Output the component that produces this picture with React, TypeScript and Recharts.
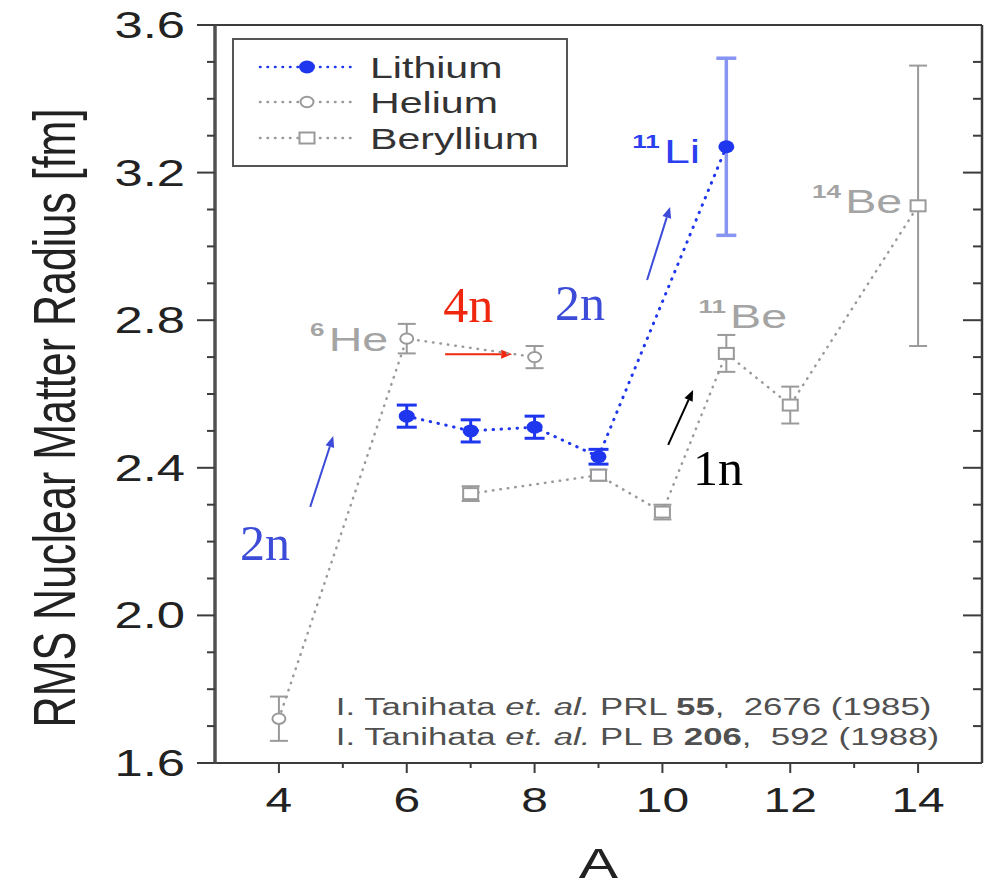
import React from 'react';
import {
  ScatterChart,
  Scatter,
  XAxis,
  YAxis,
  ErrorBar,
  Legend,
  ReferenceLine,
  ReferenceDot,
} from 'recharts';

// Mass number A, RMS nuclear matter radius [fm] and its uncertainty per isotope chain
const liMass = [6, 7, 8, 9, 11];
const liRadius = [2.54, 2.5, 2.51, 2.43, 3.27];
const liError = [0.03, 0.03, 0.03, 0.02, 0.24];

const heMass = [4, 6, 8];
const heRadius = [1.72, 2.75, 2.7];
const heError = [0.06, 0.04, 0.03];

const beMass = [7, 9, 10, 11, 12, 14];
const beRadius = [2.33, 2.38, 2.28, 2.71, 2.57, 3.11];
const beError = [0.02, 0.015, 0.02, 0.05, 0.05, 0.38];

const seriesNames = ['Lithium', 'Helium', 'Beryllium'];

const xTickValues = [4, 5, 6, 7, 8, 9, 10, 11, 12, 13, 14];
const xTickLabels = [4, 6, 8, 10, 12, 14];
const yTickValues = [
  1.6, 1.7, 1.8, 1.9, 2.0, 2.1, 2.2, 2.3, 2.4, 2.5, 2.6, 2.7, 2.8, 2.9, 3.0, 3.1, 3.2, 3.3, 3.4, 3.5, 3.6,
];
const yTickLabels = [1.6, 2.0, 2.4, 2.8, 3.2, 3.6];

// Isotope names and neutron-halo notes, anchored in (A, radius) units
const isotopeLabels = [
  { mass: '11', sym: 'Li', at: [10.59, 3.226], kind: 'li' },
  { mass: '14', sym: 'Be', at: [13.75, 3.091], kind: 'gray' },
  { mass: '11', sym: 'Be', at: [11.95, 2.779], kind: 'gray' },
  { mass: '6', sym: 'He', at: [5.71, 2.717], kind: 'gray' },
];
const neutronNotes = [
  { text: '2n', at: [3.39, 2.15], kind: 'blue' },
  { text: '4n', at: [6.57, 2.795], kind: 'red' },
  { text: '2n', at: [8.32, 2.801], kind: 'blue' },
  { text: '1n', at: [10.48, 2.353], kind: 'black' },
];
const noteArrows = [
  { from: [4.49, 2.294], to: [4.85, 2.486], kind: 'blue' },
  { from: [6.6, 2.708], to: [7.65, 2.708], kind: 'red' },
  { from: [9.76, 2.909], to: [10.12, 3.107], kind: 'blue' },
  { from: [10.09, 2.462], to: [10.48, 2.611], kind: 'black' },
];
const citationAnchor = [4.89, 1.73];
const citationAnchor2 = [4.89, 1.649];

const SANS = '"Liberation Sans", Arial, Helvetica, sans-serif';
const SERIF = '"Liberation Serif", "Times New Roman", serif';
const STRETCH = 1.37;

const LI_BLUE = '#1f36ef';
const LI_FAINT = '#8794f2';
const GRAY = '#9a9a9a';
const GRAY_LABEL = '#a4a4a4';
const AXIS = '#3c3c3c';
const noteColors: Record<string, string> = {
  blue: '#3c4bd8',
  red: '#f0270f',
  black: '#000000',
  li: '#2a40f0',
  gray: GRAY_LABEL,
};

const liData = liMass.map((A, i) => ({
  A,
  r: liRadius[i],
  e: liError[i] < 0.1 ? liError[i] : undefined,
  eWide: liError[i] >= 0.1 ? liError[i] : undefined,
}));
const heData = heMass.map((A, i) => ({ A, r: heRadius[i], e: heError[i] }));
const beData = beMass.map((A, i) => ({ A, r: beRadius[i], e: beError[i] }));

const isMajorY = (v: number) => yTickLabels.some((l) => Math.abs(l - v) < 1e-6);

const BottomTick = (p: any) => {
  const v = p.payload.value;
  const major = xTickLabels.includes(v);
  return (
    <g>
      <line x1={p.x} x2={p.x} y1={p.y} y2={p.y + (major ? 10 : 5)} stroke={AXIS} strokeWidth={2} />
      {major && (
        <text
          transform={`translate(${p.x},${p.y + 49}) scale(${STRETCH},1)`}
          textAnchor="middle"
          fontFamily={SANS}
          fontSize={35}
          fill="#222"
        >
          {v}
        </text>
      )}
    </g>
  );
};

const TopTick = (p: any) => {
  const major = xTickLabels.includes(p.payload.value);
  return <line x1={p.x} x2={p.x} y1={p.y} y2={p.y + (major ? 13 : 5)} stroke={AXIS} strokeWidth={2} />;
};

const LeftTick = (p: any) => {
  const v = p.payload.value;
  const major = isMajorY(v);
  return (
    <g>
      <line x1={p.x} x2={p.x - (major ? 18 : 8)} y1={p.y} y2={p.y} stroke={AXIS} strokeWidth={2} />
      {major && (
        <text
          transform={`translate(${p.x - 30},${p.y + 13}) scale(${STRETCH},1)`}
          textAnchor="end"
          fontFamily={SANS}
          fontSize={37}
          fill="#222"
        >
          {v.toFixed(1)}
        </text>
      )}
    </g>
  );
};

const RightTick = (p: any) => {
  const major = isMajorY(p.payload.value);
  return <line x1={p.x} x2={p.x - (major ? 19 : 9)} y1={p.y} y2={p.y} stroke={AXIS} strokeWidth={2} />;
};

const XTitle = (props: any) => {
  const vb = props.viewBox || { x: 215, y: 763, width: 767, height: 123 };
  return (
    <text
      transform={`translate(${vb.x + vb.width / 2},${vb.y + 115}) scale(${STRETCH},1)`}
      textAnchor="middle"
      fontFamily={SANS}
      fontSize={43}
      fill="#222"
    >
      A
    </text>
  );
};

const YTitle = (props: any) => {
  const vb = props.viewBox || { x: 0, y: 25, width: 215, height: 738 };
  return (
    <text
      transform={`translate(${vb.x + 75},${vb.y + vb.height / 2 + 24}) scale(${STRETCH},1) rotate(-90)`}
      textAnchor="middle"
      fontFamily={SANS}
      fontSize={43}
      fill="#222"
    >
      RMS Nuclear Matter Radius [fm]
    </text>
  );
};

const LiMarker = (p: any) => <ellipse cx={p.cx} cy={p.cy} rx={8} ry={6.5} fill={LI_BLUE} />;
const HeMarker = (p: any) => (
  <ellipse cx={p.cx} cy={p.cy} rx={6.5} ry={5.2} fill="#fff" stroke={GRAY} strokeWidth={2} />
);
const BeMarker = (p: any) => (
  <rect x={p.cx - 7.5} y={p.cy - 5.5} width={15} height={11} fill="#fff" stroke={GRAY} strokeWidth={2} />
);

const legendRows = [
  { name: seriesNames[0], y: 29, color: LI_BLUE, marker: 'li' },
  { name: seriesNames[1], y: 64, color: GRAY, marker: 'he' },
  { name: seriesNames[2], y: 100, color: GRAY, marker: 'be' },
];

const LegendBox = () => (
  <svg width={336} height={129} style={{ display: 'block' }}>
    <rect x={1} y={1} width={334} height={127} fill="#fff" stroke="#555" strokeWidth={2} />
    {legendRows.map((row) => (
      <g key={row.name}>
        <line
          x1={28}
          x2={121}
          y1={row.y}
          y2={row.y}
          stroke={row.color}
          strokeWidth={2.5}
          strokeDasharray="0.5 7"
          strokeLinecap="round"
        />
        {row.marker === 'li' && <LiMarker cx={75} cy={row.y} />}
        {row.marker === 'he' && <HeMarker cx={75} cy={row.y} />}
        {row.marker === 'be' && <BeMarker cx={75} cy={row.y} />}
        <text
          transform={`translate(138,${row.y + 10.5}) scale(${STRETCH},1)`}
          fontFamily={SANS}
          fontSize={30}
          fill="#333"
        >
          {row.name}
        </text>
      </g>
    ))}
  </svg>
);

const IsotopeText = ({ cx, cy, mass, sym, color }: any) => (
  <text
    transform={`translate(${cx},${cy}) scale(${STRETCH},1)`}
    textAnchor="end"
    fontFamily={SANS}
    fill={color}
  >
    <tspan fontSize={19} fontWeight="bold" dy={-15}>
      {mass}
    </tspan>
    <tspan fontSize={34} dx={3} dy={15}>
      {sym}
    </tspan>
  </text>
);

const NoteText = ({ cx, cy, text, color }: any) => (
  <text x={cx} y={cy} fontFamily={SERIF} fontSize={50} fill={color}>
    {text}
  </text>
);

const makeArrow = (color: string) => (p: any) => {
  const { x1, y1, x2, y2 } = p;
  if ([x1, y1, x2, y2].some((v) => v == null || Number.isNaN(v))) return null;
  const ang = Math.atan2(y2 - y1, x2 - x1);
  const len = 11;
  const half = 4.5;
  const bx = x2 - len * Math.cos(ang);
  const by = y2 - len * Math.sin(ang);
  const px = -Math.sin(ang) * half;
  const py = Math.cos(ang) * half;
  return (
    <g>
      <line x1={x1} y1={y1} x2={bx} y2={by} stroke={color} strokeWidth={2} />
      <polygon points={`${x2},${y2} ${bx + px},${by + py} ${bx - px},${by - py}`} fill={color} />
    </g>
  );
};

const Citation = ({ cx, cy, journal, volume, rest }: any) => (
  <text
    transform={`translate(${cx},${cy}) scale(1.42,1)`}
    fontFamily={SANS}
    fontSize={24.5}
    fill="#505050"
    style={{ whiteSpace: 'pre' }}
  >
    <tspan>{'I. Tanihata '}</tspan>
    <tspan fontStyle="italic">{'et. al.'}</tspan>
    <tspan>{` ${journal} `}</tspan>
    <tspan fontWeight="bold">{volume}</tspan>
    <tspan>{rest}</tspan>
  </text>
);

export default function App() {
  return (
    <div style={{ position: 'absolute', left: 0, top: 0, width: 989, height: 886, background: '#fff' }}>
      <ScatterChart width={989} height={886} margin={{ top: 24, right: 6, bottom: 0, left: 0 }}>
        <XAxis
          xAxisId="x"
          type="number"
          dataKey="A"
          domain={[3, 15]}
          ticks={xTickValues}
          interval={0}
          height={123}
          tickSize={0}
          tickMargin={0}
          tickLine={false}
          axisLine={{ stroke: AXIS, strokeWidth: 2 }}
          tick={(p: any) => <BottomTick {...p} />}
          label={{ content: (p: any) => <XTitle {...p} /> }}
          allowDataOverflow
        />
        <XAxis
          xAxisId="top"
          orientation="top"
          type="number"
          domain={[3, 15]}
          ticks={xTickValues}
          interval={0}
          height={1}
          tickSize={0}
          tickMargin={0}
          tickLine={false}
          axisLine={{ stroke: AXIS, strokeWidth: 2 }}
          tick={(p: any) => <TopTick {...p} />}
          allowDataOverflow
        />
        <YAxis
          yAxisId="y"
          type="number"
          dataKey="r"
          domain={[1.6, 3.6]}
          ticks={yTickValues}
          interval={0}
          width={215}
          tickSize={0}
          tickMargin={0}
          tickLine={false}
          axisLine={{ stroke: '#505050', strokeWidth: 3.5 }}
          tick={(p: any) => <LeftTick {...p} />}
          label={{ content: (p: any) => <YTitle {...p} /> }}
          allowDataOverflow
        />
        <YAxis
          yAxisId="right"
          orientation="right"
          type="number"
          domain={[1.6, 3.6]}
          ticks={yTickValues}
          interval={0}
          width={1}
          tickSize={0}
          tickMargin={0}
          tickLine={false}
          axisLine={{ stroke: AXIS, strokeWidth: 2.5 }}
          tick={(p: any) => <RightTick {...p} />}
          allowDataOverflow
        />

        <Scatter
          name={seriesNames[2]}
          data={beData}
          xAxisId="x"
          yAxisId="y"
          isAnimationActive={false}
          line={{ stroke: GRAY, strokeWidth: 2.5, strokeDasharray: '0.5 7', strokeLinecap: 'round' }}
          lineType="joint"
          shape={(p: any) => <BeMarker {...p} />}
        >
          <ErrorBar dataKey="e" direction="y" width={9} stroke={GRAY} strokeWidth={2} />
        </Scatter>
        <Scatter
          name={seriesNames[1]}
          data={heData}
          xAxisId="x"
          yAxisId="y"
          isAnimationActive={false}
          line={{ stroke: GRAY, strokeWidth: 2.5, strokeDasharray: '0.5 7', strokeLinecap: 'round' }}
          lineType="joint"
          shape={(p: any) => <HeMarker {...p} />}
        >
          <ErrorBar dataKey="e" direction="y" width={9} stroke={GRAY} strokeWidth={2} />
        </Scatter>
        <Scatter
          name={seriesNames[0]}
          data={liData}
          xAxisId="x"
          yAxisId="y"
          isAnimationActive={false}
          line={{ stroke: LI_BLUE, strokeWidth: 3, strokeDasharray: '0.5 7.5', strokeLinecap: 'round' }}
          lineType="joint"
          shape={(p: any) => <LiMarker {...p} />}
        >
          <ErrorBar dataKey="e" direction="y" width={10} stroke={LI_BLUE} strokeWidth={3} />
          <ErrorBar dataKey="eWide" direction="y" width={10} stroke={LI_FAINT} strokeWidth={3.5} />
        </Scatter>

        {noteArrows.map((a, i) => (
          <ReferenceLine
            key={`arrow-${i}`}
            xAxisId="x"
            yAxisId="y"
            segment={[
              { x: a.from[0], y: a.from[1] },
              { x: a.to[0], y: a.to[1] },
            ]}
            ifOverflow="visible"
            shape={makeArrow(noteColors[a.kind])}
          />
        ))}
        {neutronNotes.map((n, i) => (
          <ReferenceDot
            key={`note-${i}`}
            xAxisId="x"
            yAxisId="y"
            x={n.at[0]}
            y={n.at[1]}
            r={0}
            ifOverflow="visible"
            shape={(p: any) => <NoteText cx={p.cx} cy={p.cy} text={n.text} color={noteColors[n.kind]} />}
          />
        ))}
        {isotopeLabels.map((l, i) => (
          <ReferenceDot
            key={`iso-${i}`}
            xAxisId="x"
            yAxisId="y"
            x={l.at[0]}
            y={l.at[1]}
            r={0}
            ifOverflow="visible"
            shape={(p: any) => (
              <IsotopeText cx={p.cx} cy={p.cy} mass={l.mass} sym={l.sym} color={noteColors[l.kind]} />
            )}
          />
        ))}
        <ReferenceDot
          xAxisId="x"
          yAxisId="y"
          x={citationAnchor[0]}
          y={citationAnchor[1]}
          r={0}
          ifOverflow="visible"
          shape={(p: any) => (
            <Citation cx={p.cx} cy={p.cy} journal="PRL" volume="55" rest=",  2676 (1985)" />
          )}
        />
        <ReferenceDot
          xAxisId="x"
          yAxisId="y"
          x={citationAnchor2[0]}
          y={citationAnchor2[1]}
          r={0}
          ifOverflow="visible"
          shape={(p: any) => (
            <Citation cx={p.cx} cy={p.cy} journal="PL B" volume="206" rest=",  592 (1988)" />
          )}
        />

        <Legend
          layout="horizontal"
          verticalAlign="middle"
          align="center"
          wrapperStyle={{ left: 232, top: 38, width: 336, height: 129 }}
          content={() => <LegendBox />}
        />
      </ScatterChart>
    </div>
  );
}
